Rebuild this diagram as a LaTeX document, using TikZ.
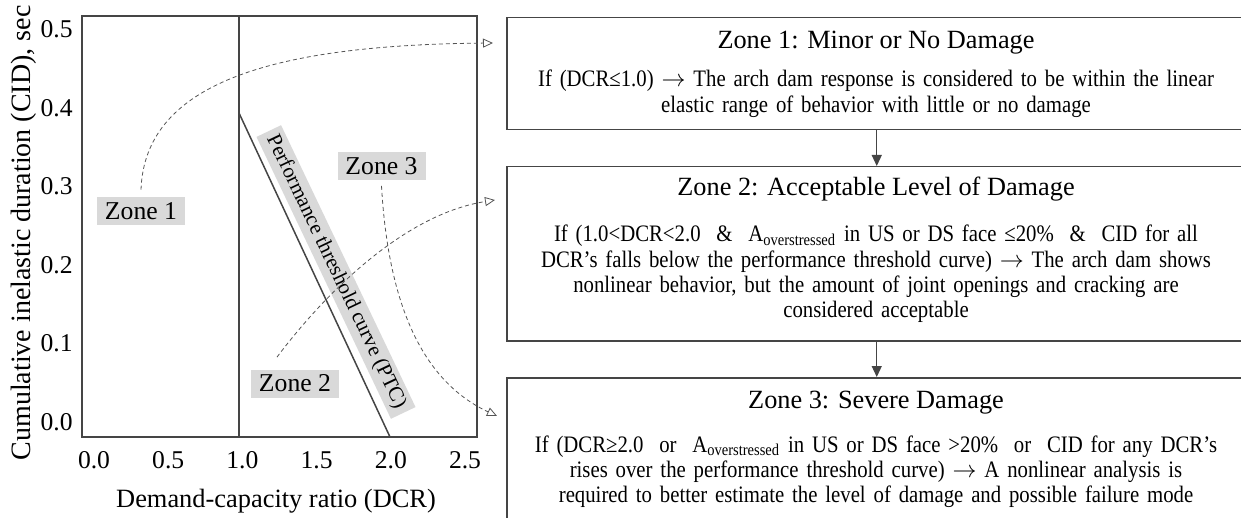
\documentclass[tikz,border=0pt]{standalone}
\usepackage{fontspec}
\setmainfont{Liberation Serif}
\newfontfamily\bodyfont[FakeStretch=0.88]{Liberation Serif}
\usetikzlibrary{arrows.meta}
\definecolor{ln}{HTML}{454545}
\definecolor{lbl}{HTML}{D9D9D9}
\definecolor{dsh}{HTML}{555555}
\newcommand{\ra}{\ensuremath{\rightarrow}}
\begin{document}
\begin{tikzpicture}[x=0.5pt,y=-0.5pt,
 every node/.style={inner sep=0pt, text=black},
 frame/.style={draw=ln, line width=0.75pt},
 zonelbl/.style={fill=lbl, minimum width=44pt, minimum height=14pt, font=\fontsize{12.85}{14}\selectfont},
 ptclbl/.style={fill=lbl, inner xsep=3pt, inner ysep=2pt, rotate=-64.5, font=\fontsize{10.5}{12}\selectfont},
 tick/.style={font=\fontsize{12.8}{14}\selectfont},
 axlbl/.style={font=\fontsize{13.2}{15}\selectfont},
 zbox/.style={draw=ln, line width=0.75pt, anchor=north west, minimum width=370pt},
 ttl/.style={anchor=base, font=\fontsize{13.15}{15}\selectfont},
 body/.style={anchor=base, text width=360pt, align=center, font=\bodyfont\fontsize{11.8}{12.6}\selectfont},
 link/.style={draw=dsh, line width=0.4pt, dash pattern=on 2pt off 1.5pt, -{Triangle[open,length=5pt,width=4.5pt]}},
 flow/.style={draw=ln, line width=0.6pt, -{Triangle[length=5.5pt,width=5pt]}}
]
\useasboundingbox (0,0) rectangle (1241,518);
\clip (0,0) rectangle (1241,518);

% plot frame and lines
\draw[frame] (82,16) rectangle (477,437);
\coordinate (v1) at (239,16);
\coordinate (v0) at (239,437);
\coordinate (p1) at (239,113);
\coordinate (p0) at (390,437);
\draw[frame] (v1) -- (v0);
\draw[frame] (p1) -- (p0);

% tick labels
\foreach \v [count=\i from 0] in {0.0,0.5,1.0,1.5,2.0,2.5}
  \node[tick, anchor=base] (xt\i) at (94+74.2*\i,468) {\v};
\foreach \v [count=\i from 0] in {0.0,0.1,0.2,0.3,0.4,0.5}
  \node[tick, anchor=base east] (yt\i) at (73,430-78.4*\i) {\v};

% axis labels
\node[axlbl, rotate=90, anchor=base, font=\fontsize{14}{16}\selectfont] (ylab) at (30,233) {Cumulative inelastic duration (CID), sec};
\node[axlbl, anchor=base] (xlab) at (276,507) {Demand-capacity ratio (DCR)};

% PTC label
\node[ptclbl] (ptc) at (336,272) {Performance threshold curve (PTC)};

% zone labels
\node[zonelbl] (z1) at (141,211) {Zone 1};
\node[zonelbl] (z2) at (295,383.5) {Zone 2};
\node[zonelbl] (z3) at (381.5,166.5) {Zone 3};

% boxes
\node[zbox, minimum height=56pt] (b1) at (506,17) {};
\node[zbox, minimum height=87pt] (b2) at (506,166) {};
\node[zbox, minimum height=80pt] (b3) at (506,377) {};
\draw[flow] (b1.south) -- (b2.north);
\draw[flow] (b2.south) -- (b3.north);

% box texts
\node[ttl] (t1) at (876,49) {Zone 1: Minor or No Damage};
\node[body] (d1) at (876,87) {If (DCR≤1.0) \ra{} The arch dam response is considered to be within the linear\\elastic range of behavior with little or no damage};
\node[ttl] (t2) at (876,196) {Zone 2: Acceptable Level of Damage};
\node[body] (d2) at (876,242) {If (1.0<DCR<2.0~~\&~~A\textsubscript{overstressed} in US or DS face ≤20\%~~\&~~CID for all\\DCR’s falls below the performance threshold curve) \ra{} The arch dam shows\\nonlinear behavior, but the amount of joint openings and cracking are\\considered acceptable};
\node[ttl] (t3) at (876,408) {Zone 3: Severe Damage};
\node[body] (d3) at (876,452) {If (DCR≥2.0~~or~~A\textsubscript{overstressed} in US or DS face >20\%~~or~~CID for any DCR’s\\rises over the performance threshold curve) \ra{} A nonlinear analysis is\\required to better estimate the level of damage and possible failure mode};

% dashed links
\coordinate (e1) at (493,43);
\coordinate (e2) at (495,200);
\coordinate (e3) at (497,416);
\draw[link] ([yshift=3.5pt]z1.north) .. controls (145,80) and (280,45) .. (e1);
\draw[link] ([xshift=-9pt,yshift=6pt]z2.north) .. controls (320,300) and (400,215) .. (e2);
\draw[link] ([yshift=-2.5pt]z3.south) .. controls (388,300) and (420,380) .. (e3);
\end{tikzpicture}
\end{document}
